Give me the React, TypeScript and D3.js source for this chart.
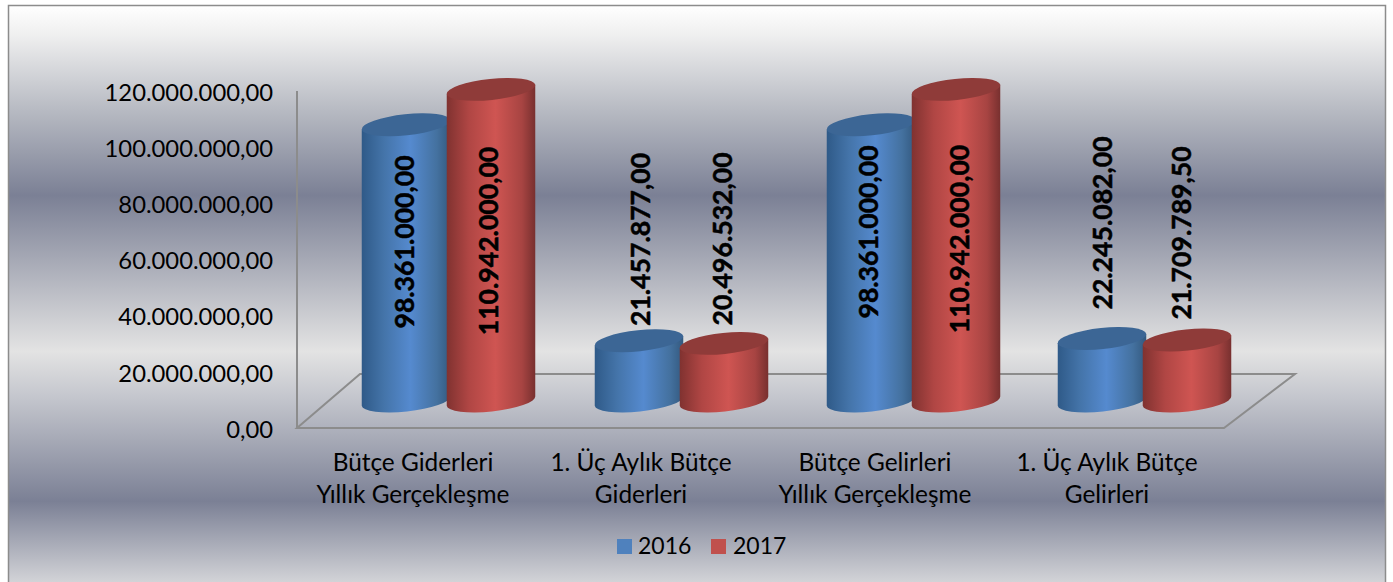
import React from "react";
import * as d3 from "d3";

const categories = [
  ["Bütçe Giderleri", "Yıllık Gerçekleşme"],
  ["1. Üç Aylık Bütçe", "Giderleri"],
  ["Bütçe Gelirleri", "Yıllık Gerçekleşme"],
  ["1. Üç Aylık Bütçe", "Gelirleri"],
];
const seriesNames = ["2016", "2017"];
const values2016 = [98361000, 21457877, 98361000, 22245082];
const values2017 = [110942000, 20496532, 110942000, 21709789.5];
const tickValues = [0, 20000000, 40000000, 60000000, 80000000, 100000000, 120000000];

// layout only
const W = 1393, H = 582;
const groupLeft = [362, 595, 827, 1058];
const catCenter = [413, 641, 875, 1107];
const labelY2016 = [242, 239.5, 232, 223];
const labelY2017 = [241, 239, 239, 233];
const labelX2016 = [405, 641, 869, 1103];
const labelX2017 = [489, 723, 960, 1182];
const sansFont = "Lato, 'Open Sans', sans-serif";

const locale = d3.formatLocale({ decimal: ",", thousands: ".", grouping: [3], currency: ["", ""] });
const fmt = locale.format(",.2f");

const yAxis = d3.scaleLinear().domain([0, 120000000]).range([428, 91]);
const yBar = d3.scaleLinear().domain([0, 120000000]).range([401, 64]);

const barW = 88;
const rx = 44.5, ry = 10.5, tilt = -6;
const dx = rx * Math.cos((tilt * Math.PI) / 180);
const dy = rx * Math.sin((tilt * Math.PI) / 180);

function Cyl({ x, value, idx }: { x: number; value: number; idx: number }) {
  const cx = x + barW / 2;
  const top = yBar(value), base = yBar(0);
  const body = `M${cx - dx},${top - dy} L${cx - dx},${base - dy} A${rx},${ry} ${tilt} 0 0 ${cx + dx},${base + dy} L${cx + dx},${top + dy} Z`;
  return (
    <g>
      <path d={body} fill={`url(#body${idx})`} />
      <ellipse cx={cx} cy={top} rx={rx} ry={ry} transform={`rotate(${tilt} ${cx} ${top})`} fill={idx === 0 ? "#3c6695" : "#8f3b39"} />
    </g>
  );
}

export default function App() {
  return (
    <svg width={W} height={H} style={{ position: "absolute", left: 0, top: 0, display: "block" }}>
      <defs>
        <linearGradient id="bg" gradientUnits="userSpaceOnUse" x1="0" y1="5" x2="0" y2="582">
          <stop offset="0" stopColor="#ffffff" />
          <stop offset="0.05" stopColor="#f0f0f0" />
          <stop offset="0.18" stopColor="#b8bbc3" />
          <stop offset="0.33" stopColor="#7b8095" />
          <stop offset="0.6" stopColor="#e3e3e3" />
          <stop offset="0.68" stopColor="#c4c6cd" />
          <stop offset="0.86" stopColor="#7b8095" />
          <stop offset="1" stopColor="#d2d3d7" />
        </linearGradient>
        <linearGradient id="body0" x1="0" y1="0" x2="1" y2="0">
          <stop offset="0" stopColor="#2f5a88" />
          <stop offset="0.25" stopColor="#4474a9" />
          <stop offset="0.55" stopColor="#558acf" />
          <stop offset="0.85" stopColor="#44719f" />
          <stop offset="1" stopColor="#33597f" />
        </linearGradient>
        <linearGradient id="body1" x1="0" y1="0" x2="1" y2="0">
          <stop offset="0" stopColor="#803230" />
          <stop offset="0.25" stopColor="#b04644" />
          <stop offset="0.55" stopColor="#cf5552" />
          <stop offset="0.85" stopColor="#a74442" />
          <stop offset="1" stopColor="#78302f" />
        </linearGradient>
      </defs>
      <rect x={0} y={0} width={W} height={H} fill="#ffffff" />
      <rect x={8.5} y={5.5} width={1377} height={578} fill="url(#bg)" stroke="#8c8c8c" strokeWidth={1.5} />

      {/* wall and floor */}
      <g fill="none" stroke="#8c8c8c" strokeWidth={2}>
        <line x1={297} y1={yAxis(120000000)} x2={297} y2={yAxis(0)} />
        <path d={`M297,${yAxis(0)} H1224 L1295,374 H360 Z`} />
      </g>

      {tickValues.map((t) => (
        <text key={t} x={273} y={yAxis(t) + 1.5} dy="0.35em" textAnchor="end" fontFamily={sansFont} fontSize={23.8} fill="#000">
          {fmt(t)}
        </text>
      ))}

      {values2016.map((v, i) => (
        <g key={i}>
          <Cyl x={groupLeft[i]} value={v} idx={0} />
          <Cyl x={groupLeft[i] + barW - 3} value={values2017[i]} idx={1} />
        </g>
      ))}

      {values2016.map((v, i) => (
        <g key={i} fontFamily={sansFont} fontSize={26.6} fontWeight={700} fill="#000" stroke="#000" strokeWidth={0.5} textAnchor="middle">
          <text transform={`translate(${labelX2016[i]},${labelY2016[i]}) rotate(-90)`} dy="0.35em">{fmt(v)}</text>
          <text transform={`translate(${labelX2017[i]},${labelY2017[i]}) rotate(-90)`} dy="0.35em">{fmt(values2017[i])}</text>
        </g>
      ))}

      {categories.map((c, i) => (
        <text key={i} textAnchor="middle" fontFamily={sansFont} fontSize={24.4} fill="#000">
          <tspan x={catCenter[i]} y={471}>{c[0]}</tspan>
          <tspan x={catCenter[i]} y={503}>{c[1]}</tspan>
        </text>
      ))}

      <rect x={617} y={539} width={15} height={15} fill="#4f81bd" />
      <text x={638} y={554} fontFamily={sansFont} fontSize={23} fill="#000">{seriesNames[0]}</text>
      <rect x={711} y={539} width={15} height={15} fill="#c0504d" />
      <text x={733} y={554} fontFamily={sansFont} fontSize={23} fill="#000">{seriesNames[1]}</text>
    </svg>
  );
}
